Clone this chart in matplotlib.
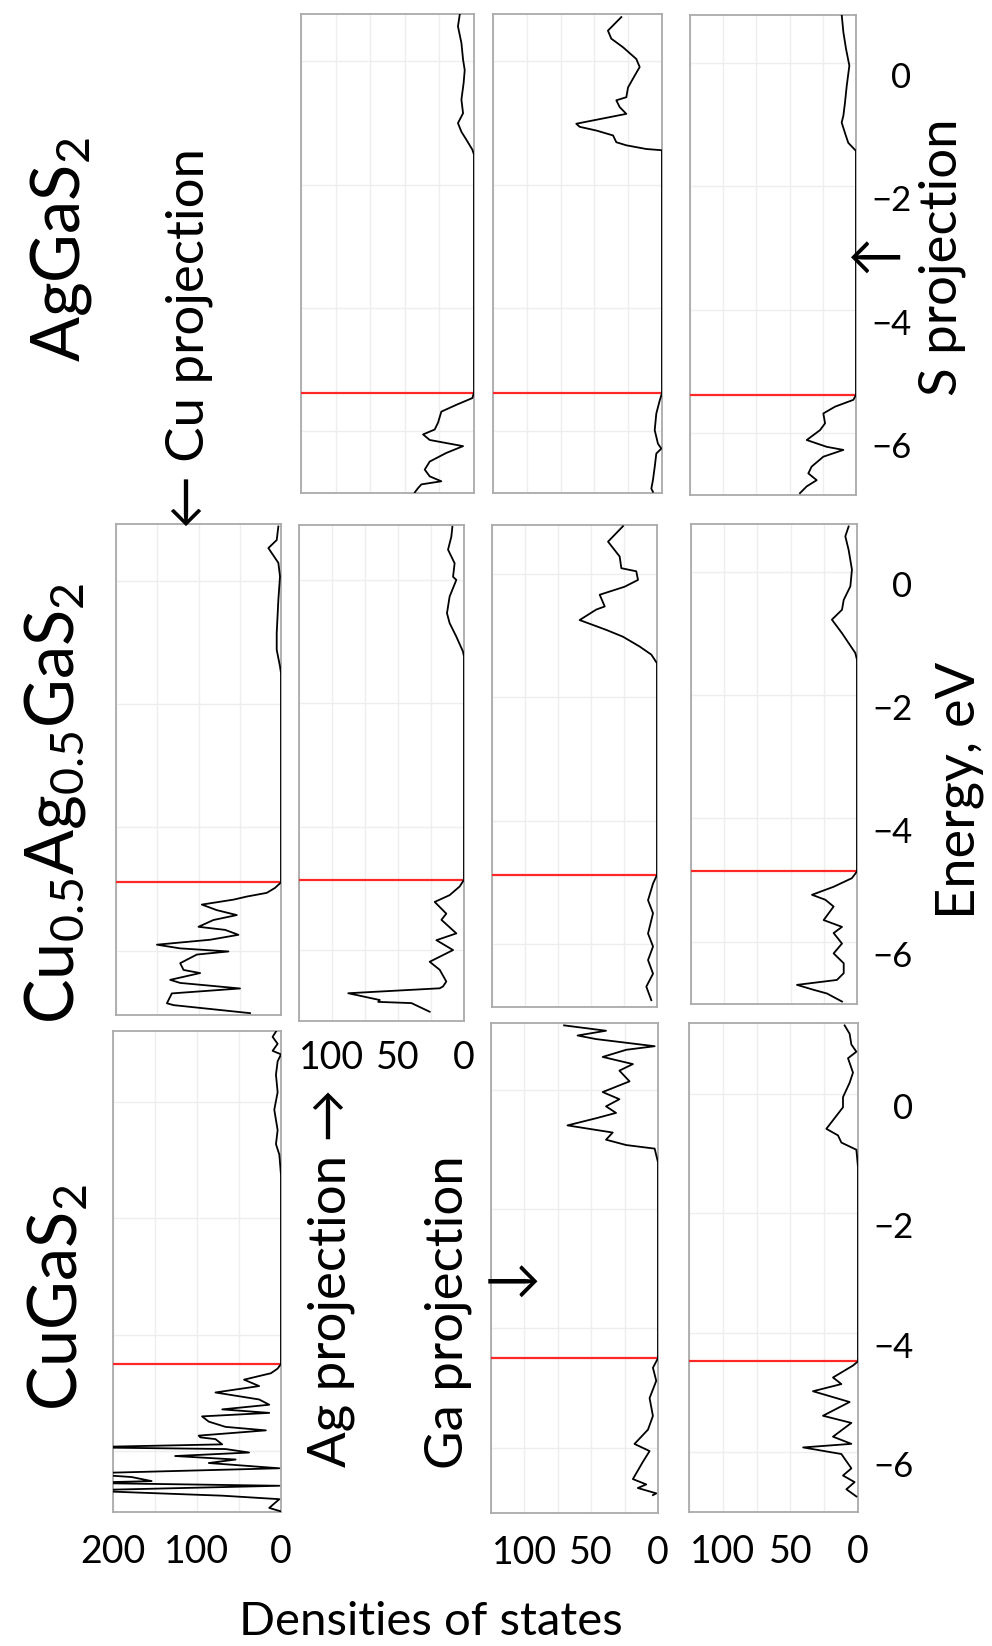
import matplotlib
matplotlib.use("Agg")
import matplotlib.pyplot as plt
from matplotlib.transforms import ScaledTranslation

plt.rcParams['font.family'] = ['Lato', 'DejaVu Sans']
plt.rcParams['mathtext.fontset'] = 'custom'
plt.rcParams['mathtext.rm'] = 'Lato'
plt.rcParams['mathtext.it'] = 'Lato:italic'

# ---- data: energy (eV) and DOS for every projection ----
# AgGaS2
r1_ag_e = [0.76, 0.57, 0.30, 0.03, -0.14, -0.35, -0.62, -0.84, -1.0, -1.14, -1.27, -1.43, -1.51,
           -5.37, -5.46, -5.57, -5.68, -5.86, -5.97, -6.05, -6.14, -6.24, -6.35, -6.49, -6.62,
           -6.73, -6.81, -6.86, -6.92, -6.99]
r1_ag_dos = [10.3, 11.6, 9.1, 7.9, 6.7, 7.5, 9.1, 7.9, 11.6, 9.1, 5.5, 1.2, 0,
             0, 1.2, 12.8, 23.6, 26, 28.4, 36.8, 32, 7.9, 20, 32, 35.6,
             32, 23.6, 38, 40.4, 42.8]
r1_ga_e = [0.72, 0.50, 0.37, 0.23, 0.04, -0.09, -0.23, -0.42, -0.58, -0.63, -0.74, -0.85, -1.01,
           -1.06, -1.12, -1.2, -1.31, -1.36, -1.42, -1.44,
           -5.38, -5.5, -5.71, -5.98, -6.2, -6.28, -6.36, -6.58, -6.79, -6.93, -6.98]
r1_ga_dos = [30.1, 40, 37.5, 28.8, 19, 16.5, 20.2, 25.1, 26.4, 33.8, 31.3, 26.4, 63.4,
             60.9, 48.6, 36.2, 33.8, 26.4, 11.6, 0,
             0, 1.7, 4.2, 5.4, 3, 0.5, 4.2, 5.4, 6.7, 7.9, 6.7]
r1_s_e = [0.78, 0.49, 0.22, -0.05, -0.38, -0.65, -0.86, -0.97, -1.14, -1.30, -1.43,
          -5.38, -5.46, -5.57, -5.68, -5.84, -5.95, -6.11, -6.22, -6.27, -6.38, -6.54,
          -6.65, -6.76, -6.86, -6.97]
r1_s_dos = [10.8, 9.5, 7.5, 5, 7, 8.3, 9.5, 10.8, 8.3, 5.8, 0,
            0, 2, 15.8, 24.6, 23.3, 27.1, 37.1, 22.1, 9.5, 24.6, 33.4,
            35.9, 29.6, 37.1, 42.2]

# Cu0.5Ag0.5GaS2
r2_cu_e = [0.88, 0.66, 0.53, 0.45, 0.29, 0.07, -0.31, -0.85, -1.12, -1.39, -1.5,
           -4.89, -4.98, -5.06, -5.12, -5.17, -5.25, -5.34, -5.42, -5.5, -5.61, -5.66,
           -5.74, -5.82, -5.9, -5.96, -6.01, -6.06, -6.2, -6.31, -6.36, -6.47, -6.52,
           -6.61, -6.69, -6.85, -6.88, -7.01]
r2_cu_dos = [3.2, 5.2, 15.3, 11.3, 3.2, 1.2, 3.2, 5.2, 5.2, 1.2, 0,
             0, 7.3, 17.3, 41.5, 57.7, 96, 77.8, 53.6, 81.9, 100, 67.7,
             51.6, 85.9, 150.4, 122.2, 63.7, 102, 122.2, 118.1, 98, 134.3, 122.2,
             49.6, 132.3, 138.3, 130.2, 37.5]
r2_ag_e = [0.86, 0.70, 0.49, 0.27, 0.05, 0.0, -0.27, -0.54, -0.70, -0.92, -1.16, -1.24,
           -4.86, -4.97, -5.11, -5.22, -5.41, -5.51, -5.73, -5.84, -6.0, -6.19, -6.32,
           -6.51, -6.59, -6.62, -6.7, -6.81, -6.84, -6.86, -7.0]
r2_ag_dos = [8.8, 9.6, 12.1, 7.1, 8.3, 5.8, 10.9, 12.9, 10.9, 5.8, 0.8, 0,
             0, 3.3, 10.9, 22.2, 13.4, 17.1, 5.8, 20.9, 8.3, 26, 18.4,
             13.4, 15.9, 18.4, 87.7, 63.8, 65, 39.8, 26]
r2_ga_e = [0.77, 0.52, 0.28, 0.09, 0.04, -0.10, -0.21, -0.34, -0.53, -0.58, -0.75, -0.91,
           -1.02, -1.18, -1.31, -1.45,
           -4.88, -5.02, -5.29, -5.5, -5.83, -6.04, -6.26, -6.48, -6.69, -6.91]
r2_ga_dos = [25.8, 37.1, 28.3, 27, 15.7, 14.4, 24.5, 43.4, 39.6, 46, 58.6, 38.4,
             25.8, 13.1, 4.3, 0,
             0, 3, 6.8, 3, 6.8, 3, 6.8, 3, 8.1, 4.3]
r2_s_e = [0.73, 0.57, 0.35, 0.03, -0.24, -0.46, -0.62, -0.78, -1.0, -1.32, -1.43,
          -4.86, -4.97, -5.11, -5.24, -5.32, -5.43, -5.65, -5.76, -5.86, -6.03, -6.19,
          -6.35, -6.51, -6.62, -6.7, -6.78, -6.84, -6.97]
r2_s_dos = [6.3, 8.8, 6.3, 3.8, 5, 10, 11.3, 18.9, 11.3, 1.3, 0,
            0, 3.8, 17.6, 33.9, 23.9, 17.6, 25.1, 11.3, 17.6, 11.3, 17.6,
            10, 10, 15.1, 45.2, 32.7, 22.6, 11.3]

# CuGaS2
r3_cu_e = [1.2, 1.11, 0.99, 0.87, 0.81, 0.69, 0.46, 0.16, -0.14, -0.49, -0.73, -0.91, -1.26,
           -4.5, -4.58, -4.66, -4.77, -4.88, -4.99, -5.11, -5.2, -5.28, -5.34, -5.4,
           -5.49, -5.58, -5.64, -5.73, -5.76, -5.79, -5.88, -5.93, -5.96, -6.02, -6.08,
           -6.14, -6.2, -6.29, -6.38, -6.44, -6.51, -6.54, -6.59, -6.67, -6.76, -6.82,
           -6.97, -7.03]
r3_cu_dos = [6, 10, 4, 10, 0, 4, 6, 4, 8, 4, 6, 2, 0,
             0, 4, 12, 44, 26, 78, 26, 14, 70, 14, 94,
             86, 66, 18, 98, 96, 78, 70, 240, 66, 38, 126,
             54, 86, 2, 240, 178, 154, 240, 2, 240, 70, 2,
             14, 0]
r3_ga_e = [1.09, 1.0, 0.92, 0.86, 0.74, 0.68, 0.56, 0.44, 0.33, 0.15, -0.03, -0.15, -0.27,
           -0.38, -0.47, -0.59, -0.71, -0.83, -0.92, -0.98, -1.21,
           -4.5, -4.66, -4.88, -5.17, -5.47, -5.7, -5.94, -6.06, -6.24, -6.53, -6.62,
           -6.68, -6.77, -6.8]
r3_ga_dos = [70.3, 38.9, 60.2, 46.4, 2.5, 23.8, 41.4, 18.8, 28.9, 21.3, 41.4, 28.9, 38.9,
             31.4, 46.4, 67.8, 33.9, 38.9, 23.8, 2.5, 0,
             0, 3.8, 1.3, 6.3, 3.8, 7.5, 17.6, 6.3, 11.3, 18.8, 8.8,
             15.1, 1.3, 3.8]
r3_s_e = [1.14, 1.0, 0.82, 0.70, 0.59, 0.35, 0.18, -0.06, -0.23, -0.59, -0.70, -0.82, -0.94,
          -1.23,
          -4.48, -4.55, -4.75, -4.86, -4.98, -5.16, -5.39, -5.51, -5.74, -5.86, -5.92,
          -6.03, -6.27, -6.39, -6.5, -6.62, -6.74]
r3_s_dos = [9.9, 6.2, 4.9, 1.2, 7.4, 3.7, 6.2, 11.1, 11.1, 23.4, 14.8, 12.3, 1.2,
            0,
            0, 3.7, 18.5, 12.3, 33.3, 6.2, 25.9, 4.9, 18.5, 4.9, 40.6,
            12.3, 4.9, 11.1, 2.5, 8.6, 1.2]

# valence band edge (red line) for each panel
edge_r1 = [-5.37, -5.38, -5.38]
edge_r2 = [-4.89, -4.86, -4.88, -4.86]
edge_r3 = [-4.5, -4.5, -4.48]

energy_ticks = [-6, -4, -2, 0]
energy_labels = ["\u22126", "\u22124", "\u22122", "0"]

# ---- layout: pixel boxes (x0, y0, x1, y1), energy limits, DOS max ----
W, H = 992, 1646
fig = plt.figure(figsize=(W / 100, H / 100), dpi=100)

panels = [
    # box, ylim, xmax, energy, dos, edge, x labels, energy labels
    ((301, 14, 474, 493), (-7.0, 0.77), 125, r1_ag_e, r1_ag_dos, edge_r1[0], False, False),
    ((493, 14, 662, 493), (-7.0, 0.77), 125, r1_ga_e, r1_ga_dos, edge_r1[1], False, False),
    ((690, 15, 856, 495), (-7.0, 0.77), 125, r1_s_e, r1_s_dos, edge_r1[2], False, True),
    ((116, 524, 281, 1015), (-7.04, 0.92), 200, r2_cu_e, r2_cu_dos, edge_r2[0], False, False),
    ((299, 525, 464, 1021), (-7.15, 0.89), 125, r2_ag_e, r2_ag_dos, edge_r2[1], 'near', False),
    ((492, 525, 657, 1007), (-7.02, 0.79), 125, r2_ga_e, r2_ga_dos, edge_r2[2], False, False),
    ((691, 524, 857, 1004), (-7.01, 0.77), 125, r2_s_e, r2_s_dos, edge_r2[3], False, True),
    ((113, 1031, 281, 1512), (-7.04, 1.21), 200, r3_cu_e, r3_cu_dos, edge_r3[0], 'far', False),
    ((491, 1023, 658, 1513), (-7.1, 1.13), 125, r3_ga_e, r3_ga_dos, edge_r3[1], 'far', False),
    ((689, 1023, 858, 1512), (-7.0, 1.18), 125, r3_s_e, r3_s_dos, edge_r3[2], 'far', True),
]

for box, ylim, xmax, e, dos, edge, xlab, ylab in panels:
    x0, y0, x1, y1 = box
    ax = fig.add_axes([x0 / W, 1 - y1 / H, (x1 - x0) / W, (y1 - y0) / H])
    ax.set_axisbelow(True)
    ax.grid(True, color="#EEEEEE", lw=1.0)
    ax.axhline(edge, color="#FF2828", lw=1.6, zorder=3)
    ax.plot(dos, e, color="black", lw=1.3, zorder=4)
    ax.set_xlim(xmax, 0)
    ax.set_ylim(*ylim)
    if xmax == 200:
        ax.set_xticks([0, 50, 100, 150, 200])
        xl = ["0", "", "100", "", "200"]
    else:
        ax.set_xticks([0, 25, 50, 75, 100, 125])
        xl = ["0", "", "50", "", "100", ""]
    ax.set_yticks(energy_ticks)
    for s in ax.spines.values():
        s.set_color("#AAAAAA")
        s.set_linewidth(1.3)
    ax.tick_params(length=0)
    if xlab:
        ax.set_xticklabels(xl, fontsize=27)
        ax.tick_params(axis='x', pad=14 if xlab == 'near' else 16)
    else:
        ax.set_xticklabels([])
    if ylab:
        ax.yaxis.tick_right()
        ax.set_yticklabels(energy_labels, fontsize=25)
        ax.tick_params(axis='y', pad=40)
        for t in ax.get_yticklabels():
            t.set_horizontalalignment('right')
            t.set_transform(t.get_transform() + ScaledTranslation(0, -0.12, fig.dpi_scale_trans))
    else:
        ax.set_yticklabels([])


def ftext(x, y, s, **kw):
    fig.text(x / W, 1 - y / H, s, ha="center", va="center", **kw)


ftext(61, 250, "AgGaS$_2$", fontsize=48, rotation=90)
ftext(55, 803, "Cu$_{0.5}$Ag$_{0.5}$GaS$_2$", fontsize=48, rotation=90)
ftext(58, 1298, "CuGaS$_2$", fontsize=48, rotation=90)
ftext(189, 338, "\u2190 Cu projection", fontsize=38, rotation=90)
ftext(331, 1278, "Ag projection \u2192", fontsize=38, rotation=90)
ftext(448, 1312, "Ga projection", fontsize=38, rotation=90)
ftext(512, 1284, "\u2192", fontsize=40)
ftext(942, 257, "S projection", fontsize=38, rotation=90)
ftext(876, 260, "\u2190", fontsize=40)
ftext(960, 790, "Energy, eV", fontsize=39, rotation=90)
ftext(431, 1622, "Densities of states", fontsize=34)

fig.savefig("out.png", dpi=100)
